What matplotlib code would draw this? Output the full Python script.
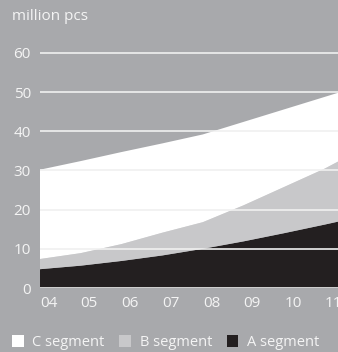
import matplotlib
matplotlib.use("Agg")
import matplotlib.pyplot as plt
import numpy as np

years = ['04', '05', '06', '07', '08', '09', '10', '11', '12']
a_segment = [4.8, 5.7, 6.9, 8.3, 10.0, 11.9, 14.0, 16.2, 18.5]
b_segment = [2.6, 3.2, 4.3, 5.8, 6.8, 9.2, 11.8, 14.3, 17.5]
c_segment = [22.8, 23.5, 23.5, 22.8, 22.4, 21.3, 19.8, 18.3, 16.0]
y_ticks = [0, 10, 20, 30, 40, 50, 60]
legend_labels = ['C segment', 'B segment', 'A segment']

bg = '#a8a9ac'
col_a = '#231f20'
col_b = '#c8c8ca'
col_c = '#ffffff'
txt = '#f4f4f4'

plt.rcParams['font.family'] = ['Open Sans', 'DejaVu Sans']

fig = plt.figure(figsize=(3.38, 3.52), dpi=100, facecolor=bg)
ax = fig.add_axes([40/338, (352-288)/352, 298/338, 237/352])
ax.set_facecolor(bg)

x = np.arange(len(years))
polys = ax.stackplot(x, a_segment, b_segment, c_segment,
                     colors=[col_a, col_b, col_c], linewidth=0)

ax.set_yticks(y_ticks)
ax.set_xticks(x)
ax.set_xticklabels(years, ha='left')
ax.set_xlim(0, (338-40)/40.7)
ax.set_ylim(0, 60.5)
ax.tick_params(axis='both', length=0, colors=txt, labelsize=11)
ax.tick_params(axis='y', pad=6.5)
ax.tick_params(axis='x', pad=5.5)
for s in ax.spines.values():
    s.set_visible(False)
ax.set_axisbelow(False)
ax.yaxis.grid(True, color='#f0f0f0', linewidth=1.2)
ax.xaxis.grid(False)

fig.text(12/338, 1 - 16/352, 'million pcs', color=txt, fontsize=11,
         ha='left', va='center')

handles = [polys[2], polys[1], polys[0]]
leg = fig.legend(handles, legend_labels, loc='center left',
                 bbox_to_anchor=(12/338, 1 - 342.5/352), ncol=3, frameon=False,
                 fontsize=10.5, handlelength=0.8, handleheight=0.8,
                 handletextpad=0.6, columnspacing=1.0, borderaxespad=0,
                 borderpad=0, labelcolor=txt)

fig.savefig('out.png', dpi=100, facecolor=bg)
